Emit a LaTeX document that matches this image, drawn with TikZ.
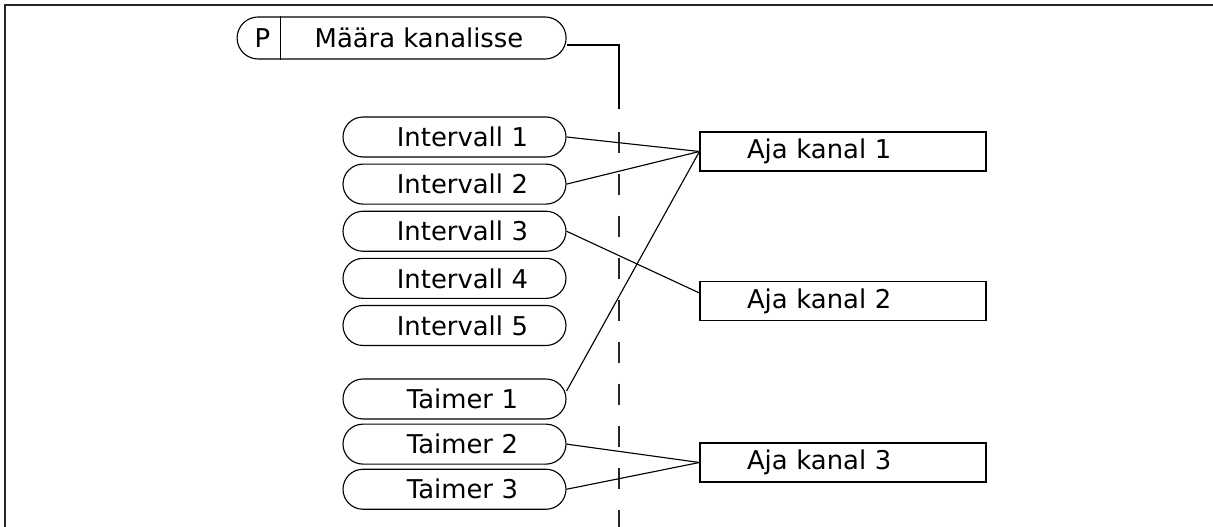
\documentclass[tikz,border=0pt]{standalone}
\usepackage{fontspec}
\setmainfont{DejaVu Sans}
\usepackage{tikz}
\usetikzlibrary{positioning}
\newcommand{\labelfont}{\fontsize{18.4}{22}\selectfont}
\tikzset{
    % rounded parameter boxes
    pill/.style={
        draw,
        line width=0.8pt,
        rounded corners=0.5cm,
        minimum width=5.575cm,
        minimum height=1cm,
        text width=5.575cm,
        align=center,
        inner sep=0pt,
        execute at begin node=\hspace*{0.4cm},
        font=\labelfont
    },
    % channel boxes on the right
    chanbox/.style={
        draw,
        line width=0.8pt,
        minimum height=0.975cm,
        text width=4.8cm,
        inner xsep=1.175cm,
        inner ysep=0pt,
        align=left,
        font=\labelfont
    },
    wire/.style={
        line width=0.8pt,
        black
    },
    guide/.style={
        line width=0.9pt,
        black!85,
        dash pattern=on 0.52cm off 0.53cm
    }
}

\begin{document}
\begin{tikzpicture}
    \useasboundingbox (0,0) rectangle (30.325,13.175);

    % ===================== frame =====================
    \draw[line width=1.4pt,black!85] (0.125,0) -- (0.125,13.05) -- (30.325,13.05);

    % ===================== parameter =====================
    \node[draw, line width=0.8pt, minimum width=8.225cm, minimum height=1.05cm, rounded corners=0.525cm] (par) at (10.04,12.225) {};
    \node[font=\labelfont] (parP) at ([xshift=0.65cm]par.west) {P};
    \node[font=\labelfont] (parname) at (10.475,12.225) {Määra kanalisse};
    \draw[wire] ([xshift=1.1cm]par.north west) -- ([xshift=1.1cm]par.south west);

    \coordinate (bus) at (15.475,10.45);
    \coordinate (busend) at (15.475,0);
    \draw[wire] ([yshift=-0.175cm]par.east) -| (bus);
    \draw[guide] (15.475,9.875) -- (busend);

    % ===================== intervals and timers =====================
    \node[pill] (int1) at (11.3625,9.75) {Intervall 1};
    \node[pill, below=0.15cm of int1] (int2) {Intervall 2};
    \node[pill, below=0.15cm of int2] (int3) {Intervall 3};
    \node[pill, below=0.15cm of int3] (int4) {Intervall 4};
    \node[pill, below=0.15cm of int4] (int5) {Intervall 5};

    \node[pill] (tim1) at (11.3625,3.2) {Taimer 1};
    \node[pill, below=0.1cm of tim1] (tim2) {Taimer 2};
    \node[pill, below=0.1cm of tim2] (tim3) {Taimer 3};

    % ===================== channels =====================
    \node[chanbox] (kan1) at (21.075,9.3875) {Aja kanal 1};
    \node[chanbox] (kan2) at (21.075,5.65) {Aja kanal 2};
    \node[chanbox] (kan3) at (21.075,1.6125) {Aja kanal 3};

    % connections
    \draw[wire] (int1.east) -- (kan1.west);
    \draw[wire] (int2.east) -- (kan1.west);
    \draw[wire] ([yshift=0.2cm]tim1.east) -- (kan1.west);
    \draw[wire] (int3.east) -- ([yshift=0.2cm]kan2.west);
    \draw[wire] (tim2.east) -- (kan3.west);
    \draw[wire] (tim3.east) -- (kan3.west);
\end{tikzpicture}
\end{document}
